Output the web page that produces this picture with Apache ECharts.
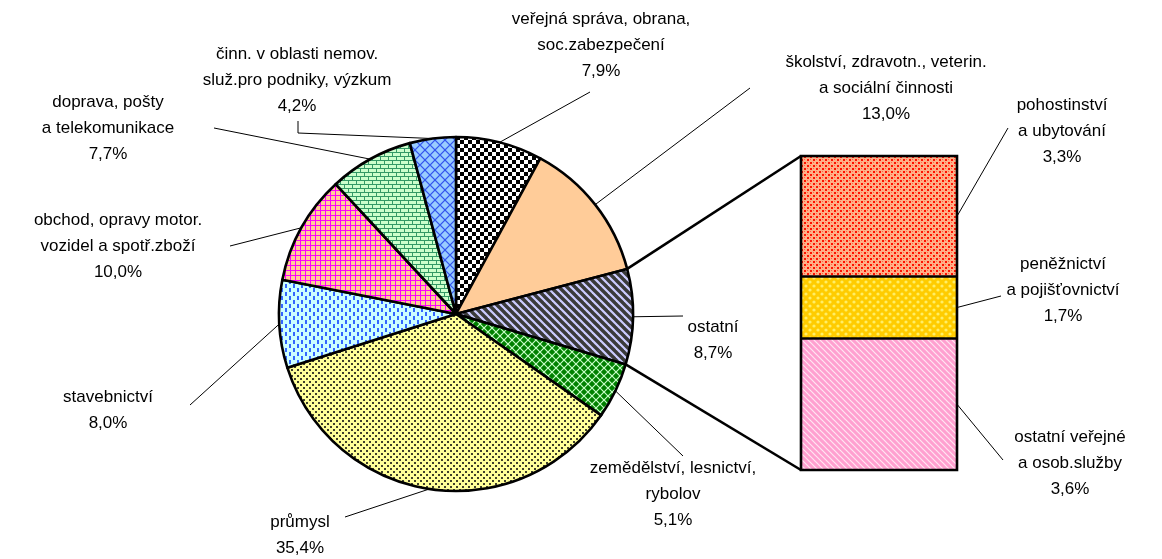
<!DOCTYPE html>
<html><head><meta charset="utf-8">
<script src="https://cdn.jsdelivr.net/npm/echarts@6/dist/echarts.min.js"></script>
<style>html,body{margin:0;padding:0;background:#fff}#c{width:1162px;height:559px}</style>
</head><body><div id="c"></div>
<script>
// ---------- data ----------
const pieNames = [
  'veřejná správa, obrana,\nsoc.zabezpečení',
  'školství, zdravotn., veterin.\na sociální činnosti',
  'ostatní',
  'zemědělství, lesnictví,\nrybolov',
  'průmysl',
  'stavebnictví',
  'obchod, opravy motor.\nvozidel a spotř.zboží',
  'doprava, pošty\na telekomunikace',
  'činn. v oblasti nemov.\nsluž.pro podniky, výzkum'
];
const pieValues = [7.9, 13.0, 8.7, 5.1, 35.4, 8.0, 10.0, 7.7, 4.2];
const splitIndex = 2; // "ostatní" is broken down in the bar
const barNames = ['ostatní veřejné\na osob.služby', 'peněžnictví\na pojišťovnictví', 'pohostinství\na ubytování'];
const barValues = [3.6, 1.7, 3.3];

// ---------- layout ----------
const PIE_CENTER = [456, 314];
const PIE_R = 177;
const BAR_GRID = { left: 801, top: 156, width: 156, height: 314 };
const pieLabelPos = [[601,45],[886,88],[713,340],[673,494],[300,535],[108,410],[118,246],[108,128],[297,80]];
const pieLineEnd = [[[590,92]],[[750,88]],[[683,316]],[[683,456]],[[345,517]],[[190,405]],[[230,246]],[[214,128]],[[298,133],[298,121]]];
const barLabelPos = [[1070,463],[1063,290],[1062,131]];
const barLineEnd = [[1003,460],[1001,296],[1008,128]];
const FONT = { color: '#000', fontFamily: '"Liberation Sans", Arial, sans-serif', fontSize: 17, lineHeight: 26 };

// ---------- patterns ----------
function tile(w, h, bg, fn) {
  const c = document.createElement('canvas');
  c.width = w; c.height = h;
  const g = c.getContext('2d');
  g.fillStyle = bg; g.fillRect(0, 0, w, h);
  if (fn) fn(g, w, h);
  return { image: c, repeat: 'repeat' };
}
function diag(g, w, color, lw) {
  g.strokeStyle = color; g.lineWidth = lw;
  for (const c of [-w, 0, w]) { g.beginPath(); g.moveTo(c - 2, -2); g.lineTo(c + w + 2, w + 2); g.stroke(); }
}
const piePatterns = [
  tile(8, 8, '#FFFFFF', g => { g.fillStyle = '#000'; g.fillRect(0,0,4,4); g.fillRect(4,4,4,4); }),
  '#FFCC99',
  tile(8, 8, '#CCCCFF', g => diag(g, 8, '#3a3a3a', 3.4)),
  tile(8, 8, '#CCFFCC', g => { g.fillStyle = '#008000';
    for (const [x, y] of [[0,0],[8,0],[0,8],[8,8],[4,4]]) { g.beginPath(); g.moveTo(x-3.2,y); g.lineTo(x,y-3.2); g.lineTo(x+3.2,y); g.lineTo(x,y+3.2); g.closePath(); g.fill(); } }),
  tile(6, 6, '#FFFF99', g => { g.fillStyle = '#3d3d2a'; g.fillRect(0,0,2,2); g.fillRect(3,3,2,2); }),
  tile(8, 8, '#CCFFFF', g => { g.fillStyle = '#3366FF'; g.fillRect(1,0,2,4); g.fillRect(5,4,2,4); }),
  tile(5, 5, '#FFCC99', g => { g.fillStyle = '#FF00FF'; g.fillRect(0,0,5,1); g.fillRect(0,0,1,5); }),
  tile(8, 8, '#CCFFCC', g => { g.fillStyle = '#339966'; g.fillRect(0,0,8,1); g.fillRect(0,4,8,1); g.fillRect(0,0,1,4); g.fillRect(4,4,1,4); }),
  tile(10, 10, '#99CCFF', g => { g.strokeStyle = '#3355EE'; g.lineWidth = 1.2; g.beginPath(); g.moveTo(0,5); g.lineTo(5,0); g.lineTo(10,5); g.lineTo(5,10); g.closePath(); g.stroke(); })
];
const barPatterns = [
  tile(6, 6, '#FFA0D0', g => diag(g, 6, '#FFE6F2', 1.2)),
  tile(8, 8, '#FFCC00', g => { g.fillStyle = '#FFEE66'; g.beginPath(); g.arc(2,2,1.6,0,7); g.fill(); g.beginPath(); g.arc(6,6,1.6,0,7); g.fill(); }),
  tile(6, 6, '#FFB088', g => { g.fillStyle = '#FF1100'; g.fillRect(0,0,2,2); g.fillRect(3,3,2,2); g.fillStyle = '#FF6644'; g.fillRect(3,0,1,1); g.fillRect(0,3,1,1); })
];

const fmt = v => v.toFixed(1).replace('.', ',') + '%';
const pieTotal = pieValues.reduce((a, b) => a + b, 0);
const barTotal = barValues.reduce((a, b) => a + b, 0);
function piePoint(frac) {
  const a = frac * 2 * Math.PI;
  return [PIE_CENTER[0] + PIE_R * Math.sin(a), PIE_CENTER[1] - PIE_R * Math.cos(a)];
}
function cumBefore(arr, i) { let s = 0; for (let k = 0; k < i; k++) s += arr[k]; return s; }

const chart = echarts.init(document.getElementById('c'), null, { renderer: 'canvas' });
const option = {
  animation: false,
  backgroundColor: '#fff',
  grid: [{ left: BAR_GRID.left, top: BAR_GRID.top, width: BAR_GRID.width, height: BAR_GRID.height }],
  xAxis: [{ type: 'category', data: ['ostatní'], show: false, gridIndex: 0 }],
  yAxis: [{ type: 'value', min: 0, max: barTotal, show: false, gridIndex: 0 }],
  series: [
    {
      type: 'pie',
      center: PIE_CENTER,
      radius: PIE_R,
      startAngle: 90,
      clockwise: true,
      avoidLabelOverlap: false,
      emphasis: { disabled: true },
      data: pieValues.map((v, i) => ({ name: pieNames[i], value: v, itemStyle: { color: piePatterns[i] } })),
      itemStyle: { borderColor: '#000', borderWidth: 2.6 },
      label: Object.assign({ show: true, position: 'outside', overflow: 'none', align: 'center',
        formatter: p => p.name + '\n' + fmt(p.value) }, FONT),
      labelLine: { show: true, length: 5, length2: 5, smooth: false, lineStyle: { color: '#000', width: 1 } },
      labelLayout: p => {
        const i = p.dataIndex;
        const anchor = piePoint((cumBefore(pieValues, i) + pieValues[i] / 2) / pieTotal);
        return {
          x: pieLabelPos[i][0], y: pieLabelPos[i][1], align: 'center', verticalAlign: 'middle',
          labelLinePoints: [anchor].concat(pieLineEnd[i])
        };
      }
    }
  ].concat(barValues.map((v, i) => ({
    type: 'bar',
    name: barNames[i],
    stack: 'ostatni',
    xAxisIndex: 0, yAxisIndex: 0,
    barWidth: '100%',
    emphasis: { disabled: true },
    data: [v],
    itemStyle: { color: barPatterns[i], borderWidth: 0 },
    label: Object.assign({ show: true, position: 'right', align: 'center',
      formatter: () => barNames[i] + '\n' + fmt(v) }, FONT),
    labelLayout: () => ({ x: barLabelPos[i][0], y: barLabelPos[i][1], align: 'center', verticalAlign: 'middle' })
  })))
};
chart.setOption(option);

// connectors, bar outlines and bar leader lines, from the library's scales
const yPix = v => chart.convertToPixel({ yAxisIndex: 0 }, v);
const barLeft = BAR_GRID.left, barRight = BAR_GRID.left + BAR_GRID.width;
const p0 = piePoint(cumBefore(pieValues, splitIndex) / pieTotal);
const p1 = piePoint(cumBefore(pieValues, splitIndex + 1) / pieTotal);
const thick = { stroke: '#000', lineWidth: 2.6 };
const graphics = [
  { type: 'line', z: 100, shape: { x1: p0[0], y1: p0[1], x2: barLeft, y2: yPix(barTotal) }, style: thick },
  { type: 'line', z: 100, shape: { x1: p1[0], y1: p1[1], x2: barLeft, y2: yPix(0) }, style: thick },
  { type: 'rect', z: 100, shape: { x: barLeft, y: yPix(barTotal), width: barRight - barLeft, height: yPix(0) - yPix(barTotal) },
    style: { fill: null, stroke: '#000', lineWidth: 2.6 } }
];
barValues.forEach((v, i) => {
  const c0 = cumBefore(barValues, i);
  const ym = (yPix(c0) + yPix(c0 + v)) / 2;
  graphics.push({ type: 'line', z: 100, shape: { x1: barRight, y1: ym, x2: barLineEnd[i][0], y2: barLineEnd[i][1] }, style: { stroke: '#000', lineWidth: 1 } });
  if (i > 0) graphics.push({ type: 'line', z: 100, shape: { x1: barLeft, y1: yPix(c0), x2: barRight, y2: yPix(c0) }, style: thick });
});
chart.setOption({ graphic: graphics });
</script>
</body></html>
